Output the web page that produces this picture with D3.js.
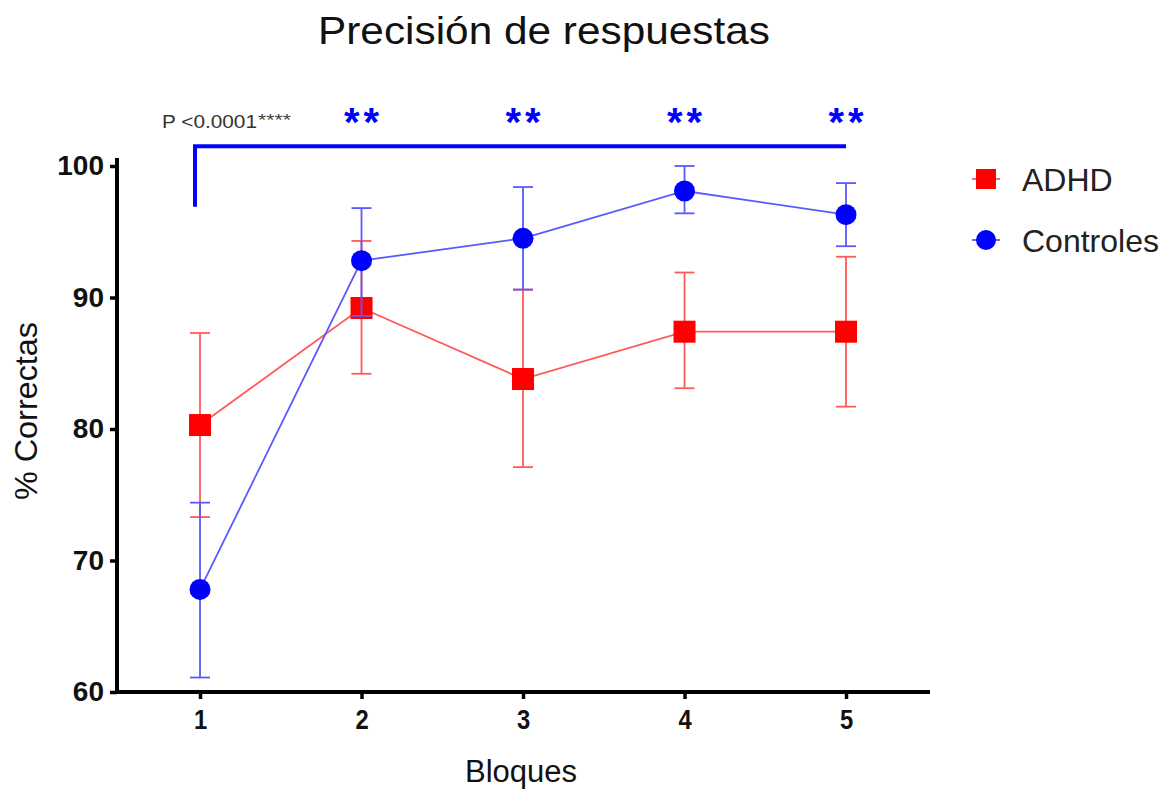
<!DOCTYPE html>
<html>
<head>
<meta charset="utf-8">
<script src="https://cdn.jsdelivr.net/npm/d3@7"></script>
<style>
    body { margin: 0; background: #fff; }
    text { font-family: "Liberation Sans", Arial, sans-serif; }
</style>
</head>
<body>
<div id="chart_div"></div>
<script>

// data
var bloques = [1, 2, 3, 4, 5];
var adhdMean = [80.3, 89.2, 83.8, 87.4, 87.4];
var adhdHigh = [87.3, 94.3, 90.6, 91.9, 93.1];
var adhdLow = [73.3, 84.2, 77.1, 83.1, 81.7];
var ctrlMean = [67.8, 92.8, 94.5, 98.1, 96.3];
var ctrlHigh = [74.4, 96.8, 98.4, 100.0, 98.7];
var ctrlLow = [61.1, 88.6, 90.6, 96.4, 93.9];
var yTicks = [60, 70, 80, 90, 100];
var starBloques = [2, 3, 4, 5];

var width = 1171, height = 789;

var svg = d3.select("#chart_div").append("svg")
    .attr("width", width)
    .attr("height", height);

var x = d3.scaleLinear().domain([0.486, 5.52]).range([117, 930]);
var y = d3.scaleLinear().domain([60, 100]).range([692, 166]);

var series = [
    {name: "ADHD", color: "#ff0000", line: "#ff5a5a", mean: adhdMean, high: adhdHigh, low: adhdLow, shape: "square"},
    {name: "Controles", color: "#0000ff", line: "#5a5aff", mean: ctrlMean, high: ctrlHigh, low: ctrlLow, shape: "circle"}
];

// title
svg.append("text")
    .attr("x", 318).attr("y", 44)
    .attr("textLength", 452)
    .attr("lengthAdjust", "spacingAndGlyphs")
    .style("font-size", "39px")
    .attr("fill", "#111")
    .text("Precisión de respuestas");

// axes
var xAxis = d3.axisBottom(x).tickValues(bloques).tickSize(7).tickPadding(10)
    .tickFormat(d3.format("d"));
var yAxis = d3.axisLeft(y).tickValues(yTicks).tickSize(7).tickPadding(6);

var gx = svg.append("g").attr("transform", "translate(0," + y(60) + ")").call(xAxis);
var gy = svg.append("g").attr("transform", "translate(" + x(0.486) + ",0)").call(yAxis);

[gx, gy].forEach(function (g) {
    g.select(".domain").remove();
    g.selectAll(".tick line").attr("stroke", "#000").attr("stroke-width", 3.5);
    g.selectAll(".tick text")
        .style("font-weight", "bold")
        .style("font-size", "28px")
        .attr("fill", "#111");
});
gx.selectAll(".tick text")
    .attr("transform", "scale(0.85,1)")
    .attr("x", 0);

svg.append("line")
    .attr("x1", x(0.486)).attr("x2", x(5.52))
    .attr("y1", y(60)).attr("y2", y(60))
    .attr("stroke", "#000").attr("stroke-width", 4);
svg.append("line")
    .attr("x1", x(0.486)).attr("x2", x(0.486))
    .attr("y1", y(60) + 2).attr("y2", y(100.6))
    .attr("stroke", "#000").attr("stroke-width", 4);

// axis labels
svg.append("text")
    .attr("x", 521).attr("y", 782)
    .attr("text-anchor", "middle")
    .attr("fill", "#111")
    .style("font-size", "31px")
    .text("Bloques");
svg.append("text")
    .attr("transform", "translate(37,411) rotate(-90)")
    .attr("text-anchor", "middle")
    .attr("textLength", 178)
    .attr("lengthAdjust", "spacingAndGlyphs")
    .attr("fill", "#111")
    .style("font-size", "31px")
    .text("% Correctas");

// significance bracket
svg.append("path")
    .attr("d", "M" + (x(1) - 5) + "," + y(96.9) + "V" + y(101.5) + "H" + x(5))
    .attr("fill", "none")
    .attr("stroke", "#0000ff")
    .attr("stroke-width", 4);

svg.selectAll(".stars")
    .data(starBloques)
    .enter().append("text")
    .attr("class", "stars")
    .attr("x", function (d) { return x(d) + 2; })
    .attr("y", 136)
    .attr("text-anchor", "middle")
    .attr("fill", "#0000ff")
    .style("font-size", "40px")
    .style("font-weight", "bold")
    .style("letter-spacing", "4px")
    .text("**");

svg.append("text")
    .attr("x", 162).attr("y", 128)
    .attr("fill", "#333")
    .attr("textLength", 95)
    .attr("lengthAdjust", "spacingAndGlyphs")
    .style("font-size", "19px")
    .text("P <0.0001");
svg.append("text")
    .attr("x", 258).attr("y", 126)
    .attr("fill", "#444")
    .attr("textLength", 33)
    .attr("lengthAdjust", "spacingAndGlyphs")
    .style("font-size", "17px")
    .text("****");

// series
var line = d3.line()
    .x(function (d) { return x(d.b); })
    .y(function (d) { return y(d.v); });

series.forEach(function (s) {
    var pts = bloques.map(function (b, i) {
        return {b: b, v: s.mean[i], hi: s.high[i], lo: s.low[i]};
    });
    var g = svg.append("g");

    g.append("path")
        .datum(pts)
        .attr("d", line)
        .attr("fill", "none")
        .attr("stroke", s.line)
        .attr("stroke-width", 1.8);

    var err = g.selectAll(".err").data(pts).enter().append("g");
    err.append("line")
        .attr("x1", function (d) { return x(d.b); })
        .attr("x2", function (d) { return x(d.b); })
        .attr("y1", function (d) { return y(d.hi); })
        .attr("y2", function (d) { return y(d.lo); })
        .attr("stroke", s.line).attr("stroke-width", 1.8);
    ["hi", "lo"].forEach(function (k) {
        err.append("line")
            .attr("x1", function (d) { return x(d.b) - 10; })
            .attr("x2", function (d) { return x(d.b) + 10; })
            .attr("y1", function (d) { return y(d[k]); })
            .attr("y2", function (d) { return y(d[k]); })
            .attr("stroke", s.line).attr("stroke-width", 1.8);
    });

    if (s.shape === "square") {
        g.selectAll(".mk").data(pts).enter().append("rect")
            .attr("x", function (d) { return x(d.b) - 11; })
            .attr("y", function (d) { return y(d.v) - 11; })
            .attr("width", 22).attr("height", 22)
            .attr("fill", s.color);
    } else {
        g.selectAll(".mk").data(pts).enter().append("circle")
            .attr("cx", function (d) { return x(d.b); })
            .attr("cy", function (d) { return y(d.v); })
            .attr("r", 10.5)
            .attr("fill", s.color);
    }
});

// legend
var legend = svg.selectAll(".legend")
    .data(series)
    .enter().append("g")
    .attr("class", "legend")
    .attr("transform", function (d, i) {
        return "translate(986," + (179 + i * 61) + ")";
    });

legend.append("line")
    .attr("x1", -14).attr("x2", 14)
    .attr("stroke", function (d) { return d.line; })
    .attr("stroke-width", 1.8);
legend.each(function (d) {
    var g = d3.select(this);
    if (d.shape === "square") {
        g.append("rect").attr("x", -10).attr("y", -10)
            .attr("width", 20).attr("height", 20).attr("fill", d.color);
    } else {
        g.append("circle").attr("r", 10).attr("fill", d.color);
    }
});
legend.append("text")
    .attr("x", 36).attr("y", 12)
    .style("font-size", "32px")
    .attr("fill", "#222")
    .text(function (d) { return d.name; });

</script>
</body>
</html>
